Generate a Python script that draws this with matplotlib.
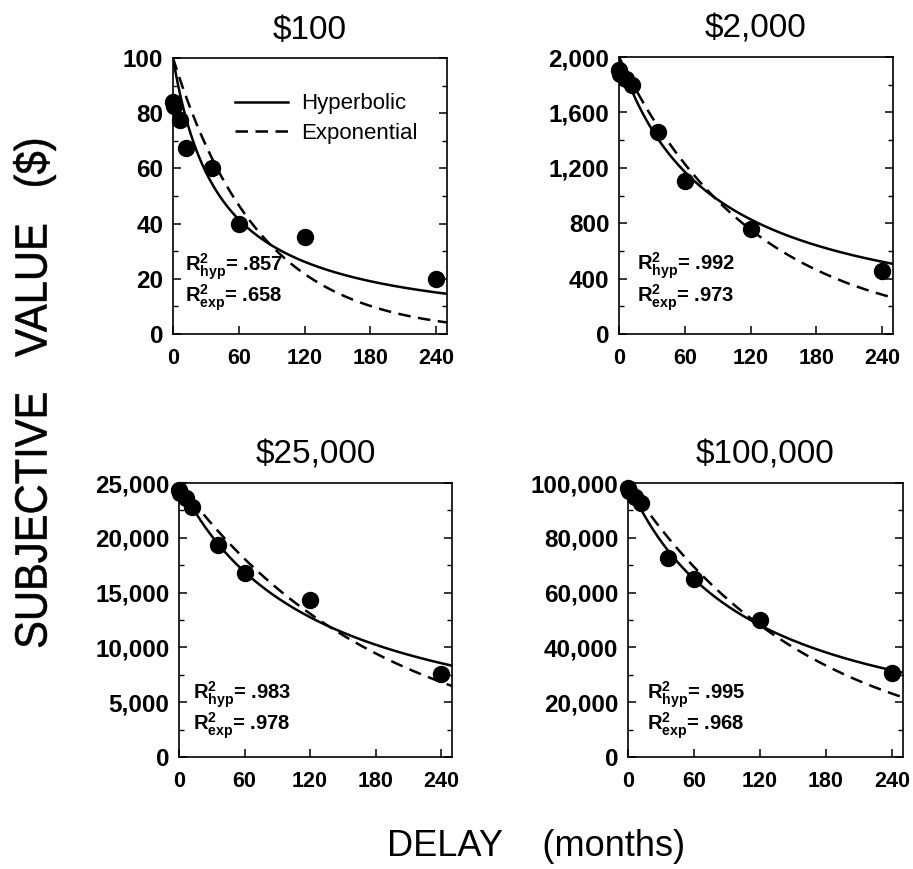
import numpy as np
import matplotlib
matplotlib.use("Agg")
import matplotlib.pyplot as plt
from matplotlib.ticker import FuncFormatter, MultipleLocator, AutoMinorLocator
from matplotlib.textpath import TextPath
from matplotlib.patches import PathPatch
from matplotlib.font_manager import FontProperties
from matplotlib.transforms import Affine2D, IdentityTransform

plt.rcParams['font.family'] = ['Liberation Sans', 'DejaVu Sans']
plt.rcParams['mathtext.fontset'] = 'custom'
plt.rcParams['mathtext.rm'] = 'Liberation Sans'
plt.rcParams['mathtext.bf'] = 'Liberation Sans:bold'
plt.rcParams['mathtext.it'] = 'Liberation Sans:italic'

# delays in months (1 wk, 1 mo, 6 mo, 1, 3, 5, 10, 20 yr)
delays = [0.25, 1, 6, 12, 36, 60, 120, 240]

titles = ['$100', '$2,000', '$25,000', '$100,000']
amounts = [100, 2000, 25000, 100000]
values_100 = [84, 82.5, 77.5, 67.5, 60, 40, 35, 20]
values_2000 = [1905, 1880, 1840, 1795, 1455, 1105, 755, 455]
values_25000 = [24400, 24100, 23600, 22800, 19300, 16800, 14350, 7600]
values_100000 = [98000, 97000, 95000, 92700, 72500, 65000, 50000, 30500]
all_values = [values_100, values_2000, values_25000, values_100000]

# fitted discounting rates
k_hyp = [0.0235, 0.0118, 0.0080, 0.0090]
k_exp = [0.0127, 0.00813, 0.0054, 0.0061]
r2_hyp = ['.857', '.992', '.983', '.995']
r2_exp = ['.658', '.973', '.978', '.968']

y_steps = [20, 400, 5000, 20000]
r2_pos = [(0.044, 0.245, 0.13), (0.065, 0.245, 0.13),
          (0.052, 0.228, 0.115), (0.068, 0.228, 0.115)]

W, H = 913, 869
fig = plt.figure(figsize=(W / 100, H / 100), dpi=100)

# pixel boxes: left, right, top, bottom
boxes = [(173, 447, 58, 334), (619, 893, 57, 334),
         (179, 452, 483, 757), (628, 903, 483, 757)]

D = np.linspace(0, 250, 400)

for i, (l, r, t, b) in enumerate(boxes):
    ax = fig.add_axes([l / W, 1 - b / H, (r - l) / W, (b - t) / H])
    A = amounts[i]
    ax.plot(D, A / (1 + k_hyp[i] * D), color='black', lw=1.8, label='Hyperbolic')
    ax.plot(D, A * np.exp(-k_exp[i] * D), color='black', lw=1.8,
            dashes=(5, 3), label='Exponential')
    ax.plot(delays, all_values[i], 'o', color='black', markersize=11.5,
            clip_on=False, zorder=5)

    ax.set_xlim(0, 250)
    ax.set_ylim(0, A)
    ax.xaxis.set_major_locator(MultipleLocator(60))
    ax.yaxis.set_major_locator(MultipleLocator(y_steps[i]))
    ax.yaxis.set_minor_locator(AutoMinorLocator(2))
    ax.yaxis.set_major_formatter(FuncFormatter(lambda v, p: f'{v:,.0f}'))
    ax.tick_params(axis='y', which='both', direction='in', left=True, right=True)
    ax.tick_params(axis='x', which='both', direction='in', bottom=True, top=False)
    ax.tick_params(which='major', length=6, width=1.1)
    ax.tick_params(axis='y', which='major', labelsize=17.5, pad=7)
    ax.tick_params(axis='x', which='major', labelsize=15.5, pad=10)
    ax.tick_params(which='minor', length=3.5, width=1.0)
    for lab in ax.get_xticklabels() + ax.get_yticklabels():
        lab.set_fontweight('bold')
    for sp in ax.spines.values():
        sp.set_linewidth(1.2)

    ax.set_title(titles[i], fontsize=24, pad=14)

    x0, y1, y2 = r2_pos[i]
    ax.text(x0, y1, r'$\mathbf{R^{2}_{hyp}}$= ' + r2_hyp[i], transform=ax.transAxes,
            fontsize=14.5, fontweight='bold', va='center', ha='left')
    ax.text(x0, y2, r'$\mathbf{R^{2}_{exp}}$= ' + r2_exp[i], transform=ax.transAxes,
            fontsize=14.5, fontweight='bold', va='center', ha='left')

    if i == 0:
        ax.legend(loc='upper left', bbox_to_anchor=(0.226, 0.872), frameon=False,
                  fontsize=16, handlelength=2.4, handletextpad=0.6,
                  labelspacing=0.39, borderpad=0, borderaxespad=0)

# y label: the original lettering is stretched across the line, so draw it as a path
prop = FontProperties(family='Liberation Sans')
ylab = 'SUBJECTIVE   VALUE   ($)'
tp = TextPath((0, 0), ylab, size=100, prop=prop)
cap = TextPath((0, 0), 'SUBJECTIVE', size=100, prop=prop).get_extents()
ext = tp.get_extents()
sx = (647 - 140) / ext.width
sy = 32 / cap.height
tr = (Affine2D().translate(-ext.x0, -cap.y0).scale(sx, sy).rotate_deg(90)
      .translate(47, H - 647))
fig.patches.append(PathPatch(tp, transform=tr + IdentityTransform(),
                             facecolor='black', edgecolor='black', lw=0.4,
                             figure=fig))

fig.text(536 / W, 1 - 846 / H, 'DELAY    (months)', fontsize=26,
         ha='center', va='center')

fig.savefig('out.png', dpi=100)
